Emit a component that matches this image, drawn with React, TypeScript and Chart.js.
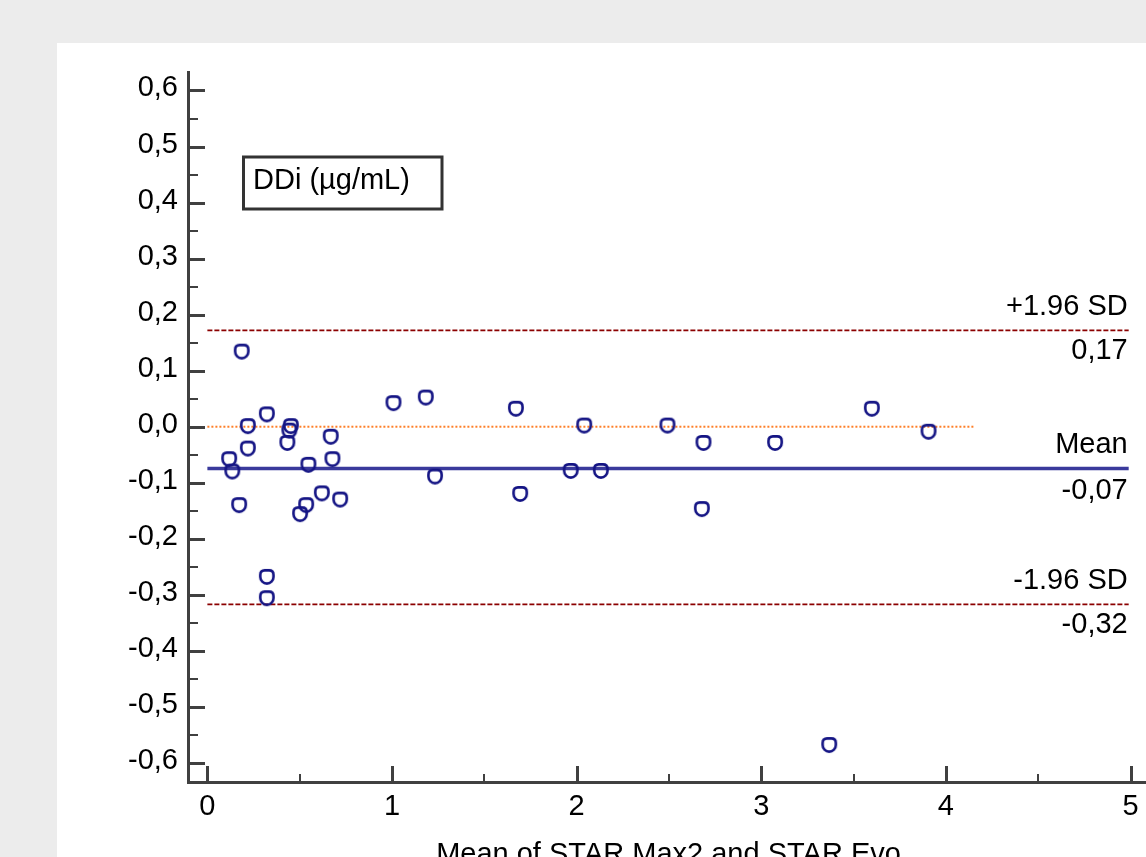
import React, { useEffect, useRef } from 'react';
import { Chart, registerables } from 'chart.js';

Chart.register(...registerables);

// Bland-Altman data: mean of the two methods (x) and their difference (y)
const meanValues = [
  0.186, 0.322, 0.219, 0.452, 0.444, 0.433, 0.668, 0.219, 0.118, 0.135,
  0.677, 0.547, 0.172, 0.62, 0.719, 0.535, 0.502, 0.322, 0.322, 1.008,
  1.183, 1.671, 2.041, 1.233, 1.968, 2.131, 1.694, 2.492, 2.687, 3.075,
  3.599, 3.906, 2.678, 3.368,
];
const diffValues = [
  0.134, 0.022, 0.001, 0.001, -0.007, -0.029, -0.018, -0.039, -0.058, -0.08,
  -0.058, -0.068, -0.14, -0.119, -0.13, -0.14, -0.156, -0.268, -0.306, 0.042,
  0.052, 0.032, 0.002, -0.089, -0.079, -0.079, -0.12, 0.002, -0.029, -0.029,
  0.032, -0.009, -0.147, -0.568,
];

const xMajorTicks = [0, 1, 2, 3, 4, 5];
const xMinorTicks = [0.5, 1.5, 2.5, 3.5, 4.5];
const yMajorTicks = [-0.6, -0.5, -0.4, -0.3, -0.2, -0.1, 0, 0.1, 0.2, 0.3, 0.4, 0.5, 0.6];
const yMinorTicks = [-0.55, -0.45, -0.35, -0.25, -0.15, -0.05, 0.05, 0.15, 0.25, 0.35, 0.45, 0.55];

const meanDiff = -0.0745;
const upperLoA = 0.172;
const lowerLoA = -0.317;
const refLineStart = 0;
const refLineEnd = 4.99;
const zeroLineEnd = 4.15;

const upperLabel = '+1.96 SD';
const meanLabel = 'Mean';
const lowerLabel = '-1.96 SD';
const xTitle = 'Mean of STAR Max2 and STAR Evo';
const boxLabel = 'DDi (µg/mL)';

const FONT_FAMILY = "'Liberation Sans', Arial, Helvetica, sans-serif";
const FONT_SIZE = 29;
const AXIS_COLOR = '#404040';

const fmt2 = (v: number) => v.toFixed(2).replace('.', ',');

function makeMarker(): HTMLCanvasElement {
  const c = document.createElement('canvas');
  c.width = 20;
  c.height = 20;
  const g = c.getContext('2d')!;
  g.strokeStyle = '#141484';
  g.lineWidth = 2.6;
  const l = 3.4, r = 16.6, t = 3.4, cy = 10, rad = 6.6, cr = 4.5;
  g.beginPath();
  g.moveTo(l, cy);
  g.lineTo(l, t + cr);
  g.quadraticCurveTo(l, t, l + cr, t);
  g.lineTo(r - cr, t);
  g.quadraticCurveTo(r, t, r, t + cr);
  g.lineTo(r, cy);
  g.arc(10, cy, rad, 0, Math.PI, false);
  g.closePath();
  g.stroke();
  return c;
}

const decorPlugin = {
  id: 'decor',
  afterDraw(chart: any) {
    const { ctx, chartArea, scales } = chart;
    const xs = scales.x;
    const ys = scales.y;
    const left = chartArea.left;
    const bottom = chartArea.bottom;
    ctx.save();
    ctx.strokeStyle = AXIS_COLOR;
    ctx.lineCap = 'butt';
    const drawY = (vals: number[], len: number, w: number) => {
      ctx.lineWidth = w;
      vals.forEach((v) => {
        const p = Math.round(ys.getPixelForValue(v)) + (w % 2 ? 0.5 : 0);
        ctx.beginPath();
        ctx.moveTo(left, p);
        ctx.lineTo(left + len, p);
        ctx.stroke();
      });
    };
    drawY(yMajorTicks, 17, 3);
    drawY(yMinorTicks, 10, 2);
    const drawX = (vals: number[], len: number, w: number) => {
      ctx.lineWidth = w;
      vals.forEach((v) => {
        const p = Math.round(xs.getPixelForValue(v)) + (w % 2 ? 0.5 : 0);
        ctx.beginPath();
        ctx.moveTo(p, bottom);
        ctx.lineTo(p, bottom - len);
        ctx.stroke();
      });
    };
    drawX(xMajorTicks, 16, 3);
    drawX(xMinorTicks, 8, 2);

    ctx.fillStyle = '#000';
    ctx.font = `${FONT_SIZE}px ${FONT_FAMILY}`;
    ctx.textAlign = 'right';
    ctx.textBaseline = 'alphabetic';
    const rx = xs.getPixelForValue(refLineEnd) - 1;
    const labelPair = (val: number, top: string, below: number) => {
      const py = ys.getPixelForValue(val);
      ctx.fillText(top, rx, py - 15);
      ctx.fillText(fmt2(val), rx, py + below);
    };
    labelPair(upperLoA, upperLabel, 29);
    labelPair(meanDiff, meanLabel, 31);
    labelPair(lowerLoA, lowerLabel, 29);

    const bx = left + 55.5;
    const by = chartArea.top + 85;
    ctx.lineWidth = 3;
    ctx.strokeStyle = '#333333';
    ctx.strokeRect(bx, by, 198.5, 52);
    ctx.textAlign = 'left';
    ctx.fillText(boxLabel, left + 65, chartArea.top + 117);
    ctx.restore();
  },
};

export default function App() {
  const ref = useRef<HTMLCanvasElement | null>(null);

  useEffect(() => {
    if (!ref.current) return;
    const marker = makeMarker();
    const font = { family: FONT_FAMILY, size: FONT_SIZE };
    const points = meanValues.map((x, i) => ({ x, y: diffValues[i] }));
    const hLine = (y: number, x1: number, x2: number) => [
      { x: x1, y },
      { x: x2, y },
    ];

    const chart = new Chart(ref.current, {
      type: 'scatter',
      data: {
        datasets: [
          {
            data: points,
            pointStyle: marker as any,
            pointRadius: 7,
            pointHoverRadius: 7,
            showLine: false,
          },
          {
            data: hLine(meanDiff, refLineStart, refLineEnd),
            showLine: true,
            borderColor: '#3a3a9c',
            borderWidth: 3.5,
            pointRadius: 0,
          },
          {
            data: hLine(upperLoA, refLineStart, refLineEnd),
            showLine: true,
            borderColor: '#8b0000',
            borderWidth: 1.6,
            borderDash: [5, 2],
            pointRadius: 0,
          },
          {
            data: hLine(lowerLoA, refLineStart, refLineEnd),
            showLine: true,
            borderColor: '#8b0000',
            borderWidth: 1.6,
            borderDash: [5, 2],
            pointRadius: 0,
          },
          {
            data: hLine(0, refLineStart, zeroLineEnd),
            showLine: true,
            borderColor: '#ff7f27',
            borderWidth: 2,
            borderDash: [2, 2],
            pointRadius: 0,
          },
        ],
      } as any,
      options: {
        responsive: false,
        animation: false,
        events: [],
        layout: { padding: { left: 0, top: 29, right: 58, bottom: 0 } },
        plugins: {
          legend: { display: false },
          tooltip: { enabled: false },
        },
        scales: {
          x: {
            type: 'linear',
            min: -0.105,
            max: 5.1,
            grid: { display: false, drawTicks: false },
            border: { display: true, width: 3, color: AXIS_COLOR },
            ticks: {
              font,
              color: '#000',
              padding: 8,
              autoSkip: false,
              maxRotation: 0,
              callback: (v: any) => String(v),
            },
            afterBuildTicks: (s: any) => {
              s.ticks = xMajorTicks.map((value) => ({ value }));
            },
            afterFit: (s: any) => {
              s.height = 111;
            },
            title: {
              display: true,
              text: xTitle,
              font,
              color: '#000',
              padding: { top: 0, bottom: 21 },
            },
          },
          y: {
            type: 'linear',
            min: -0.634,
            max: 0.633,
            grid: { display: false, drawTicks: false },
            border: { display: true, width: 3, color: AXIS_COLOR },
            ticks: {
              font,
              color: '#000',
              padding: 10,
              autoSkip: false,
              labelOffset: -2,
              callback: (v: any) => Number(v).toFixed(1).replace('.', ','),
            },
            afterBuildTicks: (s: any) => {
              s.ticks = yMajorTicks.map((value) => ({ value }));
            },
            afterFit: (s: any) => {
              s.width = 131;
            },
          },
        },
      } as any,
      plugins: [decorPlugin],
    });
    return () => chart.destroy();
  }, []);

  return (
    <div
      style={{
        position: 'fixed',
        left: 0,
        top: 0,
        width: '100vw',
        height: '100vh',
        background: '#ececec',
        overflow: 'hidden',
      }}
    >
      <canvas
        ref={ref}
        width={1150}
        height={850}
        style={{ position: 'absolute', left: 57, top: 43, width: 1150, height: 850, background: '#ffffff' }}
      />
    </div>
  );
}
